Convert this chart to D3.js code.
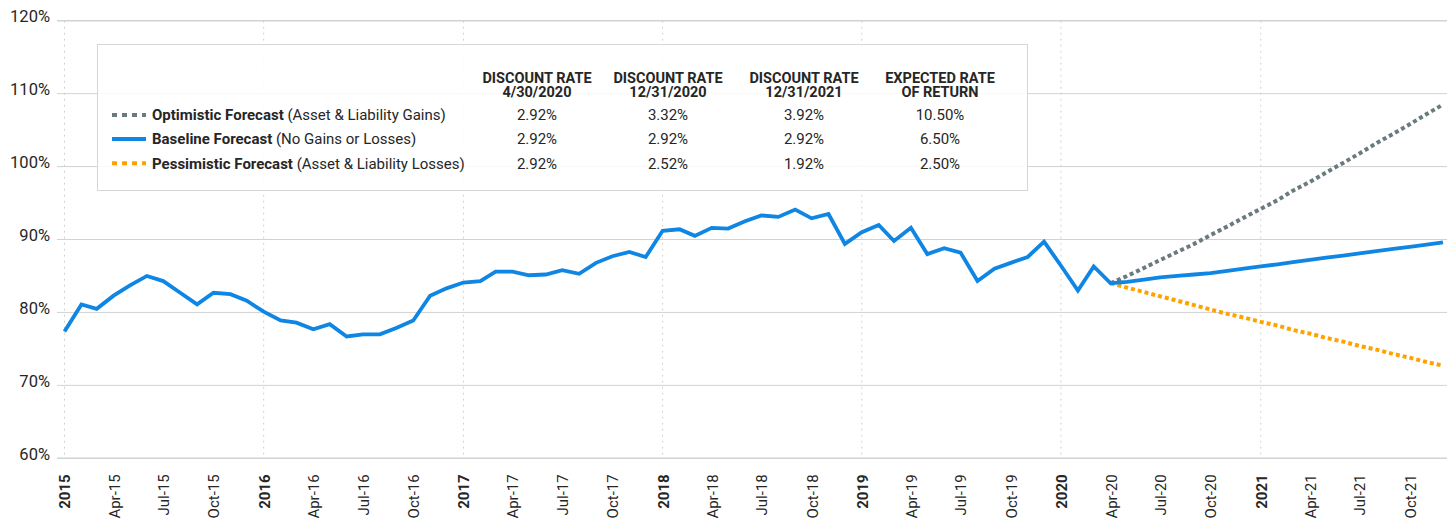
<!DOCTYPE html>
<html>
<head>
<meta charset="utf-8">
<script src="https://cdn.jsdelivr.net/npm/d3@7"></script>
<style>
  body { margin: 0; background: #fff; }
  svg { display: block; font-family: Roboto, "Noto Sans", sans-serif; }
</style>
</head>
<body>
<svg id="chart" width="1452" height="524"></svg>
<script>
// funded ratio, monthly from Jan 2015 to Apr 2020
const histStart = new Date(2015, 0, 1);
const histValues = [
  77.4, 81.1, 80.5, 82.3, 83.7, 85.0, 84.3, 82.7, 81.1, 82.7, 82.5, 81.6,
  80.1, 78.9, 78.6, 77.7, 78.4, 76.7, 77.0, 77.0, 77.9, 78.9, 82.3, 83.3,
  84.1, 84.3, 85.6, 85.6, 85.1, 85.2, 85.8, 85.3, 86.8, 87.7, 88.3, 87.6,
  91.2, 91.4, 90.5, 91.6, 91.5, 92.5, 93.3, 93.1, 94.1, 92.9, 93.5, 89.4,
  91.0, 92.0, 89.8, 91.6, 88.0, 88.8, 88.2, 84.3, 86.0, 86.8, 87.6, 89.7,
  86.4, 83.0, 86.3, 84.0
];

// forecasts, monthly from Apr 2020 to Dec 2021
const forecastStart = new Date(2020, 3, 1);
const optimisticValues = [
  84.0, 85.0, 86.1, 87.2, 88.3, 89.4, 90.6, 91.8, 93.0, 94.2, 95.4,
  96.7, 97.9, 99.2, 100.5, 101.8, 103.2, 104.5, 105.8, 107.2, 108.5
];
const baselineValues = [
  84.0, 84.2, 84.5, 84.8, 85.0, 85.2, 85.4, 85.7, 86.0, 86.3, 86.6,
  86.9, 87.2, 87.5, 87.8, 88.1, 88.4, 88.7, 89.0, 89.3, 89.6
];
const pessimisticValues = [
  84.0, 83.4, 82.8, 82.2, 81.6, 81.0, 80.4, 79.8, 79.3, 78.7, 78.2,
  77.6, 77.1, 76.5, 76.0, 75.4, 74.9, 74.3, 73.8, 73.2, 72.7
];

const yTicks = [60, 70, 80, 90, 100, 110, 120];
const xTickLabels = [
  "2015", "Apr-15", "Jul-15", "Oct-15", "2016", "Apr-16", "Jul-16", "Oct-16",
  "2017", "Apr-17", "Jul-17", "Oct-17", "2018", "Apr-18", "Jul-18", "Oct-18",
  "2019", "Apr-19", "Jul-19", "Oct-19", "2020", "Apr-20", "Jul-20", "Oct-20",
  "2021", "Apr-21", "Jul-21", "Oct-21"
];

const tableHeaders = [
  ["DISCOUNT RATE", "4/30/2020"],
  ["DISCOUNT RATE", "12/31/2020"],
  ["DISCOUNT RATE", "12/31/2021"],
  ["EXPECTED RATE", "OF RETURN"]
];
const scenarioNames = ["Optimistic Forecast", "Baseline Forecast", "Pessimistic Forecast"];
const scenarioNotes = ["(Asset & Liability Gains)", "(No Gains or Losses)", "(Asset & Liability Losses)"];
const scenarioRates = [
  ["2.92%", "3.32%", "3.92%", "10.50%"],
  ["2.92%", "2.92%", "2.92%", "6.50%"],
  ["2.92%", "2.52%", "1.92%", "2.50%"]
];

let blueColor = "#0f86e3";
let grayColor = "#6b7a7e";
let orangeColor = "#ffa200";
let gridColor = "#d2d2d2";
let textColor = "#262626";

let svg = d3.select("#chart");
let gridLeft = 57, gridRight = 1447;

let x = d3.scaleTime()
  .domain([new Date(2015, 0, 1), new Date(2021, 11, 1)])
  .range([64.5, 1443]);
let y = d3.scaleLinear()
  .domain([60, 120])
  .range([458.3, 20.7]);

let toSeries = (start, values) => values.map((v, i) => ({date: d3.timeMonth.offset(start, i), value: v}));
let hist = toSeries(histStart, histValues);
let optimistic = toSeries(forecastStart, optimisticValues);
let baseline = toSeries(forecastStart, baselineValues);
let pessimistic = toSeries(forecastStart, pessimisticValues);

let quarterTicks = xTickLabels.map((d, i) => d3.timeMonth.offset(histStart, i * 3));
let yearTicks = quarterTicks.filter(d => d.getMonth() == 0);

// horizontal grid
svg.append("g")
  .selectAll("line")
  .data(yTicks)
  .enter()
  .append("line")
  .attr("x1", gridLeft)
  .attr("x2", gridRight)
  .attr("y1", d => y(d))
  .attr("y2", d => y(d))
  .attr("stroke", gridColor)
  .attr("stroke-width", d => (d == 60 || d == 120) ? 1.5 : 1);

// dotted year lines
svg.append("g")
  .selectAll("line")
  .data(yearTicks)
  .enter()
  .append("line")
  .attr("x1", d => x(d))
  .attr("x2", d => x(d))
  .attr("y1", y(120))
  .attr("y2", y(60))
  .attr("stroke", gridColor)
  .attr("stroke-width", 1)
  .attr("stroke-dasharray", "2,4");

// y axis
let yAxis = svg.append("g")
  .attr("transform", "translate(" + gridLeft + ",0)")
  .call(d3.axisLeft(y).tickValues(yTicks).tickSize(0).tickPadding(7).tickFormat(d => d + "%"));
yAxis.select(".domain").remove();
yAxis.selectAll("text")
  .attr("dy", "0.05em")
  .style("font-family", "Roboto, sans-serif")
  .style("font-size", "16.5px")
  .style("fill", textColor);

// x axis
let xAxis = svg.append("g")
  .attr("transform", "translate(0," + y(60) + ")")
  .call(d3.axisBottom(x).tickValues(quarterTicks).tickSize(0).tickFormat((d, i) => xTickLabels[i]));
xAxis.select(".domain").remove();
xAxis.selectAll("text")
  .attr("transform", "rotate(-90)")
  .attr("text-anchor", "end")
  .attr("x", -16)
  .attr("y", 0)
  .attr("dy", "0.36em")
  .style("font-family", "Roboto, sans-serif")
  .style("font-size", "15px")
  .style("font-weight", (d, i) => d.getMonth() == 0 ? "bold" : "normal")
  .style("fill", textColor);

let line = d3.line()
  .x(d => x(d.date))
  .y(d => y(d.value));

// legend / rate table box
let box = svg.append("g");
box.append("rect")
  .attr("x", 97.5)
  .attr("y", 44.5)
  .attr("width", 930)
  .attr("height", 146)
  .attr("fill", "#ffffff")
  .attr("fill-opacity", 0.85)
  .attr("stroke", "#d6d6d6")
  .attr("stroke-width", 1);

let colCenters = [537, 668, 804, 940];
tableHeaders.forEach((h, i) => {
  let header = box.append("text")
    .attr("y", 82.5)
    .attr("text-anchor", "middle")
    .style("font-size", "14.5px")
    .style("font-weight", "bold")
    .style("fill", textColor);
  h.forEach((t, j) => {
    header.append("tspan")
      .attr("x", colCenters[i])
      .attr("dy", j == 0 ? 0 : 14.5)
      .text(t);
  });
});

let rowY = [115, 139, 163.3];
let swatchStyles = [
  {color: grayColor, dash: "5,5"},
  {color: blueColor, dash: null},
  {color: orangeColor, dash: "5,5"}
];
scenarioNames.forEach((name, i) => {
  box.append("line")
    .attr("x1", 112)
    .attr("x2", 146)
    .attr("y1", rowY[i])
    .attr("y2", rowY[i])
    .attr("stroke", swatchStyles[i].color)
    .attr("stroke-width", 4)
    .attr("stroke-dasharray", swatchStyles[i].dash);

  let label = box.append("text")
    .attr("x", 152)
    .attr("y", rowY[i] + 5.3)
    .style("font-size", "15px")
    .style("fill", textColor);
  label.append("tspan").style("font-weight", "bold").text(name);
  label.append("tspan").text(" " + scenarioNotes[i]);

  scenarioRates[i].forEach((r, j) => {
    box.append("text")
      .attr("x", colCenters[j])
      .attr("y", rowY[i] + 5.3)
      .attr("text-anchor", "middle")
      .text(r)
      .style("font-size", "15px")
      .style("fill", textColor);
  });
});

// forecast lines
svg.append("path")
  .datum(optimistic)
  .attr("d", line)
  .attr("fill", "none")
  .attr("stroke", grayColor)
  .attr("stroke-width", 4)
  .attr("stroke-dasharray", "4,3");

svg.append("path")
  .datum(pessimistic)
  .attr("d", line)
  .attr("fill", "none")
  .attr("stroke", orangeColor)
  .attr("stroke-width", 4)
  .attr("stroke-dasharray", "4,3");

svg.append("path")
  .datum(hist.concat(baseline.slice(1)))
  .attr("d", line)
  .attr("fill", "none")
  .attr("stroke", blueColor)
  .attr("stroke-width", 3.8)
  .attr("stroke-linejoin", "miter");
</script>
</body>
</html>
